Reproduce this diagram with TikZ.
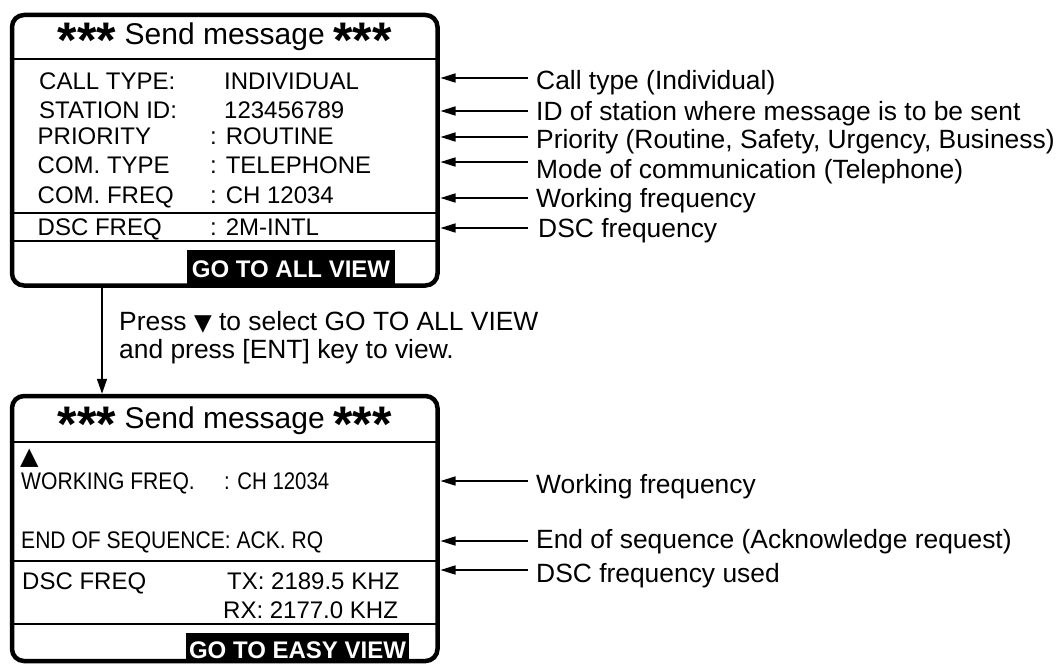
\documentclass[tikz,border=0pt]{standalone}
\usepackage{fontspec}
\setmainfont{Liberation Sans}
\newfontfamily\djv{DejaVu Sans}
\usetikzlibrary{arrows.meta}
\newcommand\fsz[1]{\fontsize{#1}{#1}\selectfont}
\newcommand\stars{\raisebox{-13pt}{\fsz{50}\bfseries***}}
\begin{document}
\begin{tikzpicture}[x=1pt,y=-1pt,
  screen/.style={draw, line width=4.5pt, rounded corners=12pt, inner sep=0},
  divider/.style={line width=1.4pt},
  row/.style={anchor=base west, inner sep=0, font=\fsz{24}},
  lbl/.style={anchor=base west, inner xsep=8pt, inner ysep=0, font=\fsz{26.4}},
  arr/.style={line width=1.5pt, -{Triangle[length=15pt,width=9pt]}},
  gobox/.style={fill=black, text=white, font=\fsz{24}\bfseries, inner sep=0, text depth=0pt},
  title/.style={anchor=base, inner sep=0, font=\fsz{30}},
]
\useasboundingbox (0,0) rectangle (1064,666);

% ---------- top screen ----------
\node[gobox, minimum width=208pt, minimum height=35pt, text height=19pt] (go1) at (291,267.5) {GO TO ALL VIEW};
\node[screen, minimum width=425.5pt, minimum height=270.5pt] (top) at (224.75,150.25) {};
\node[title] (t1) at (224.75,45) {\stars\ Send message\ \stars};
\coordinate (d1) at (0,59);
\coordinate (d2) at (0,213);
\coordinate (d3) at (0,241);
\draw[divider] (top.west |- d1) -- (top.east |- d1);
\draw[divider] (top.west |- d2) -- (top.east |- d2);
\draw[divider] (top.west |- d3) -- (top.east |- d3);

\node[row] (r1) at (39,89.6) {CALL TYPE:};
\node[row] (v1) at (224,89.6) {INDIVIDUAL};
\node[row] (r2) at (39,118.6) {STATION ID:};
\node[row] (v2) at (224,118.6) {123456789};
\node[row] (r3) at (37.5,144.6) {PRIORITY};
\node[row] (v3) at (210,144.6) {: ROUTINE};
\node[row] (r4) at (37.5,173.6) {COM. TYPE};
\node[row] (v4) at (210,173.6) {: TELEPHONE};
\node[row] (r5) at (37.5,203) {COM. FREQ};
\node[row] (v5) at (210,203) {: CH 12034};
\node[row] (r6) at (37.5,235) {DSC FREQ};
\node[row] (v6) at (210,235) {: 2M-INTL};

\node[lbl] (l1) at (528,89.5) {Call type (Individual)};
\node[lbl] (l2) at (528,120.5) {ID of station where message is to be sent};
\node[lbl] (l3) at (528,148.5) {Priority (Routine, Safety, Urgency, Business)};
\node[lbl] (l4) at (528,178.5) {Mode of communication (Telephone)};
\node[lbl] (l5) at (528,207.5) {Working frequency};
\node[lbl, inner xsep=10pt] (l6) at (528,237.5) {DSC frequency};
\coordinate (a1) at (440.5,78);
\coordinate (a2) at (440.5,111);
\coordinate (a3) at (440.5,137);
\coordinate (a4) at (440.5,162);
\coordinate (a5) at (440.5,198);
\coordinate (a6) at (440.5,228);
\draw[arr] (l1.west |- a1) -- (a1);
\draw[arr] (l2.west |- a2) -- (a2);
\draw[arr] (l3.west |- a3) -- (a3);
\draw[arr] (l4.west |- a4) -- (a4);
\draw[arr] (l5.west |- a5) -- (a5);
\draw[arr] (l6.west |- a6) -- (a6);

% ---------- between ----------
\node[anchor=base west, inner sep=0, font=\fsz{26.4}] (p1) at (119,330) {Press {\djv\fsz{23}▼} to select GO TO ALL VIEW};
\node[anchor=base west, inner sep=0, font=\fsz{26.4}] (p2) at (119,358) {and press [ENT] key to view.};

% ---------- bottom screen ----------
\node[gobox, minimum width=223pt, minimum height=28pt, text height=22pt] (go2) at (297.5,647) {GO TO EASY VIEW};
\node[screen, minimum width=425.5pt, minimum height=265pt] (bot) at (224.75,528.5) {};
\node[title] (t2) at (224.75,428.3) {\stars\ Send message\ \stars};
\coordinate (e1) at (0,442);
\coordinate (e2) at (0,561);
\coordinate (e3) at (0,624);
\draw[divider] (bot.west |- e1) -- (bot.east |- e1);
\draw[divider] (bot.west |- e2) -- (bot.east |- e2);
\draw[divider] (bot.west |- e3) -- (bot.east |- e3);

\node[anchor=base west, inner sep=0, font=\djv\fsz{24}] (up) at (20,464) {▲};
\node[row] (w1) at (21,489) {\scalebox{0.88}[1]{WORKING FREQ.}};
\node[row] (w2) at (224,489) {\scalebox{0.85}[1]{: CH 12034}};
\node[row] (s1) at (21,548) {\scalebox{0.878}[1]{END OF SEQUENCE: ACK. RQ}};
\node[row] (f1) at (22,589) {DSC FREQ};
\node[row] (f2) at (227,589) {TX: 2189.5 KHZ};
\node[row] (f3) at (223,618) {RX: 2177.0 KHZ};

\node[lbl] (m1) at (528,493) {Working frequency};
\node[lbl] (m2) at (528,548) {End of sequence (Acknowledge request)};
\node[lbl] (m3) at (528,582) {DSC frequency used};
\coordinate (b1) at (440.5,481);
\coordinate (b2) at (440.5,541);
\coordinate (b3) at (440.5,570);
\draw[arr] (m1.west |- b1) -- (b1);
\draw[arr] (m2.west |- b2) -- (b2);
\draw[arr] (m3.west |- b3) -- (b3);

% ---------- connector between screens ----------
\coordinate (ax) at (102,0);
\draw[line width=1.5pt, -{Triangle[length=15pt,width=10pt]}] (top.south -| ax) -- (bot.north -| ax);
\end{tikzpicture}
\end{document}
